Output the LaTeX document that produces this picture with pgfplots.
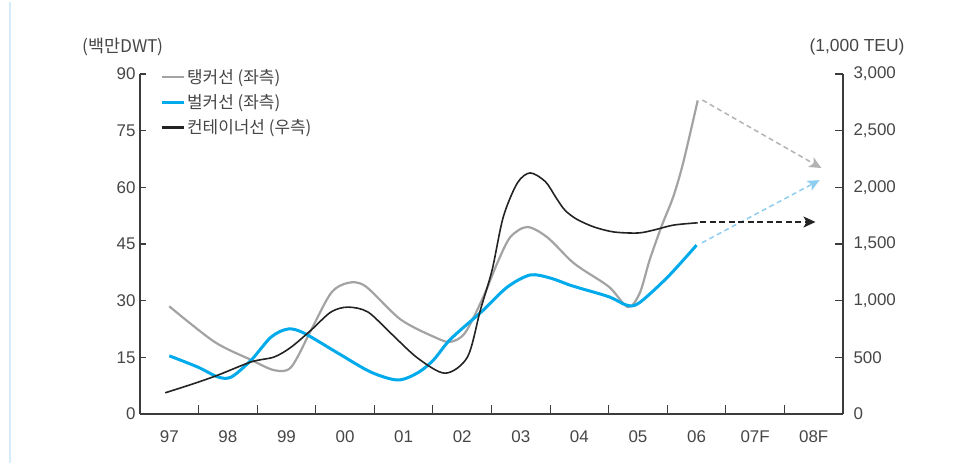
\documentclass[border=0pt]{standalone}
\usepackage{pgfplots}
\pgfplotsset{compat=1.18}
\usepackage{pgfplotstable}
\usepackage{fontspec}
\setmainfont{Liberation Sans}
\newfontfamily\kr{Noto Sans CJK KR}
\usetikzlibrary{arrows.meta}
\definecolor{tank}{RGB}{163,163,163}
\definecolor{tankfc}{RGB}{178,178,178}
\definecolor{bulk}{RGB}{0,170,235}
\definecolor{bulkfc}{RGB}{140,205,240}
\definecolor{cont}{RGB}{35,35,35}
\definecolor{textgray}{RGB}{70,70,70}
\definecolor{axgray}{RGB}{60,60,60}
\definecolor{frameblue}{RGB}{215,236,250}

\pgfplotstableread{
x y
0 28.5
0.77 19.1
1.40 14.3
1.79 11.6
2.08 12.4
2.42 22.2
2.76 32.0
3.05 34.7
3.35 33.8
3.95 25.0
4.55 20.2
4.80 19.1
5.05 21.5
5.36 31.0
5.60 40.0
5.82 46.8
6.11 49.5
6.45 46.8
6.84 40.8
7.05 38.3
7.51 33.6
7.83 28.3
8.03 32.0
8.20 40.8
8.41 50.0
8.60 57.4
8.77 66.4
9.02 83.0
}\tanker

\pgfplotstableread{
x y
0 15.4
0.49 12.4
0.83 9.8
1.06 9.8
1.40 14.3
1.74 20.4
2.03 22.5
2.30 21.4
2.88 16.1
3.44 11.1
3.90 9.0
4.24 10.9
4.51 14.3
4.80 19.8
5.36 27.5
5.77 33.6
6.16 36.8
6.50 36.0
6.84 34.1
7.01 33.3
7.51 31.0
7.81 28.8
8.02 29.4
8.51 36.3
9.00 44.7
}\bulker

\pgfplotstableread{
x y
-0.07 187
0.40 265
0.83 343
1.40 460
1.79 503
2.08 590
2.42 740
2.76 900
3.05 943
3.39 900
3.78 713
4.24 493
4.71 360
5.09 503
5.31 917
5.51 1270
5.70 1737
5.94 2037
6.16 2127
6.42 2050
6.60 1910
6.75 1800
6.95 1720
7.25 1650
7.59 1606
8.00 1597
8.27 1623
8.61 1667
9.02 1687
}\container

\pgfplotsset{
  every axis/.append style={
    /pgf/number format/assume math mode=true,
    tick label style={font=\fontsize{17}{18}\selectfont, text=textgray},
    axis line style={axgray, line width=1.1bp},
    tick style={axgray, line width=1.1bp},
  }
}

\begin{document}
\begin{tikzpicture}[x=1bp,y=1bp]
\useasboundingbox (0,0) rectangle (967,465);
\draw[frameblue, line width=1.5bp] (10,2) -- (10,463);

\begin{axis}[
  at={(140bp,51bp)}, anchor=south west,
  scale only axis, width=703bp, height=340bp,
  xmin=-0.5, xmax=11.5, ymin=0, ymax=90,
  axis x line*=bottom, axis y line*=left,
  xtick={0,...,11},
  xticklabels={97,98,99,00,01,02,03,04,05,06,07F,08F},
  major x tick style={draw=none},
  minor xtick={0.5,1.5,...,10.5},
  minor tick length=9bp,
  major tick length=6bp,
  ytick={0,15,...,90},
  xticklabel style={yshift=-13bp},
  yticklabel style={xshift=-1bp},
  legend style={at={(0.029,1.018)}, anchor=north west, draw=none, fill=none,
    inner sep=0pt, row sep=6.5bp,
    font=\kr\fontsize{17}{19}\selectfont, text=textgray,
    nodes={inner sep=1.5bp}},
  legend cell align=left,
  legend image code/.code={\draw[#1] (0bp,0bp) -- (22bp,0bp);},
  clip=false,
]
\addplot[tank, line width=2.2bp, smooth, tension=0.5] table {\tanker};
\addlegendentry{탱커선 (좌측)}
\addplot[bulk, line width=3bp, smooth, tension=0.5] table {\bulker};
\addlegendentry{벌커선 (좌측)}
\addlegendimage{cont, line width=2.4bp}
\addlegendentry{컨테이너선 (우측)}
\addplot[tankfc, line width=1.5bp, dash pattern=on 5bp off 3.5bp,
  -{Stealth[length=12bp,width=11bp,inset=3bp]}, forget plot]
  coordinates {(9.10,83.1) (11.13,65.1)};
\addplot[bulkfc, line width=1.5bp, dash pattern=on 5bp off 3.5bp,
  -{Stealth[length=12bp,width=11bp,inset=3bp]}, forget plot]
  coordinates {(9.09,45.3) (11.10,61.9)};
\end{axis}

\begin{axis}[
  at={(140bp,51bp)}, anchor=south west,
  scale only axis, width=703bp, height=340bp,
  xmin=-0.5, xmax=11.5, ymin=0, ymax=3000,
  axis x line=none, axis y line*=right,
  ytick={0,500,...,3000},
  major tick length=8bp,
  yticklabel style={xshift=7bp},
  /pgf/number format/.cd, 1000 sep={,},
]
\addplot[cont, line width=1.6bp, smooth, tension=0.5] table {\container};
\addplot[cont, line width=1.5bp, dash pattern=on 6bp off 3.5bp,
  -{Stealth[length=12bp,width=11bp,inset=3bp]}, forget plot]
  coordinates {(9.06,1694) (11.03,1694)};
\end{axis}

\node[font=\kr\fontsize{17.5}{19}\selectfont, text=textgray] at (123,418) {(백만DWT)};
\node[font=\fontsize{17.5}{19}\selectfont, text=textgray] at (857,418) {(1,000 TEU)};
\end{tikzpicture}
\end{document}
